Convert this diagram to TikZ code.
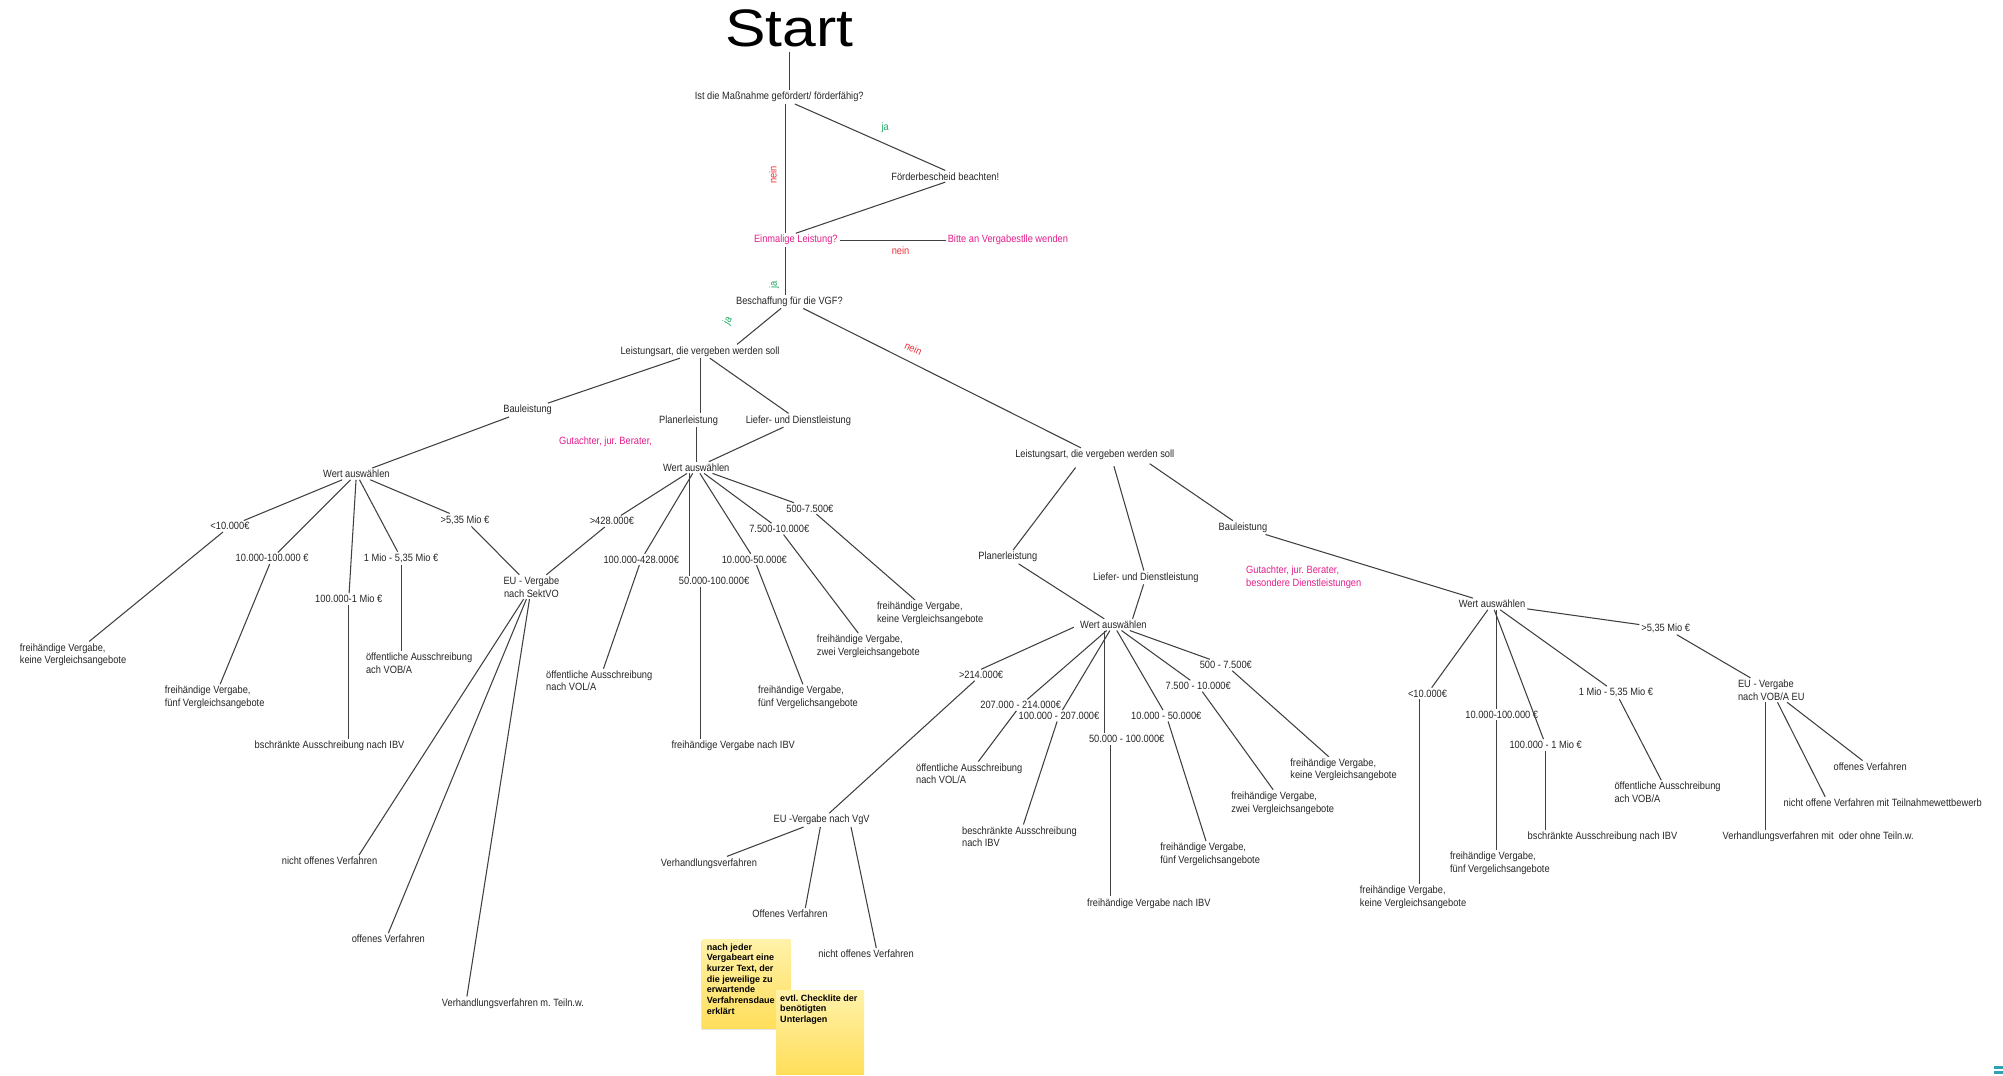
\documentclass[tikz,border=0pt]{standalone}
\usepackage{fontspec}
\setmainfont{Liberation Sans}[FakeStretch=0.88]
\newfontfamily\titlefont{Liberation Sans}[FakeStretch=1.15]
\newfontfamily\notefont{Liberation Sans}
\usetikzlibrary{calc}

\definecolor{hinweis}{RGB}{228,30,140}
\definecolor{neinrot}{RGB}{235,50,60}
\definecolor{jagruen}{RGB}{30,170,100}
\definecolor{zettelhell}{RGB}{255,242,170}
\definecolor{zetteldunkel}{RGB}{255,222,90}
\definecolor{ikon}{RGB}{50,160,180}

\tikzset{
  txt/.style={font=\fontsize{9}{10.8}\selectfont, text=black!85, inner sep=1.5pt, align=center},
  ltxt/.style={txt, align=left, anchor=west},
  hint/.style={txt, text=hinweis},
  kante/.style={draw=black!75, line width=0.9pt},
  ja/.style={font=\fontsize{9}{10}\selectfont, text=jagruen, inner sep=1pt},
  nein/.style={font=\fontsize{9}{10}\selectfont, text=neinrot, inner sep=1pt},
  zetteltext/.style={font=\notefont\bfseries\fontsize{7.7}{9.1}\selectfont, anchor=north west, align=left, inner sep=0pt}
}

\begin{document}
\begin{tikzpicture}[x=0.0383cm,y=-0.0383cm]
\path[use as bounding box,fill=white] (0,0) rectangle (1568,842);

%oben%%%%%%%%%%%%%%%%%%%%%%%%%%%%%%%%%%%%%%%%%%%%%%%%%%%%%%%
\node[font=\titlefont\fontsize{45}{50}\selectfont] (start) at (618,22.5) {Start};
\node[txt] (frage) at (610,76) {Ist die Maßnahme gefördert/ förderfähig?};
\node[txt] (foerder) at (740,138) {Förderbescheid beachten!};
\node[hint] (einmal) at (623,188) {Einmalige Leistung?};
\node[hint] (bitte) at (789,188) {Bitte an Vergabestlle wenden};
\node[txt] (besch) at (618,236) {Beschaffung für die VGF?};
\coordinate (achse) at (615,0);

\draw[kante] (start.south) -- (start.south |- frage.north);
\draw[kante] (frage.south -| achse) -- (einmal.north -| achse);
\draw[kante] (frage) -- (foerder.north);
\draw[kante] (foerder.south) -- (einmal.north);
\draw[kante] (einmal) -- (bitte);
\draw[kante] (einmal.south -| achse) -- (besch.north -| achse);

\node[nein,rotate=90] (n1) at (605,137) {nein};
\node[ja] (j1) at (693,100) {ja};
\node[nein] (n2) at (705,196) {nein};
\node[ja,rotate=90] (j2) at (606,223) {ja};
\node[ja,rotate=60] (j3) at (570,251) {ja};
\node[nein,rotate=-25] (n3) at (715,273) {nein};

%links%%%%%%%%%%%%%%%%%%%%%%%%%%%%%%%%%%%%%%%%%%%%%%%%%%%%%%
\node[txt] (lsl) at (548,275) {Leistungsart, die vergeben werden soll};
\node[txt] (baul) at (413,321) {Bauleistung};
\node[txt] (planl) at (539,329) {Planerleistung};
\node[txt] (liefl) at (625,329) {Liefer- und Dienstleistung};
\node[hint] (gutl) at (474,346) {Gutachter, jur.\ Berater,};
\node[txt] (wertl) at (279,371) {Wert auswählen};
\node[txt] (wertm) at (545,366) {Wert auswählen};

\node[txt] (l10) at (180,412) {<10.000€};
\node[txt] (l10100) at (213,437) {10.000-100.000 €};
\node[txt] (l1001m) at (273,469) {100.000-1 Mio €};
\node[txt] (l1535) at (314,437) {1 Mio - 5,35 Mio €};
\node[txt] (l535) at (364,407) {>5,35 Mio €};
\node[txt] (eus) at (416,459.5) {EU - Vergabe\\nach SektVO};
\node[ltxt] (lkeine) at (14,512.5) {freihändige Vergabe,\\keine Vergleichsangebote};
\node[ltxt] (lfuenf) at (127.5,546) {freihändige Vergabe,\\fünf Vergleichsangebote};
\node[txt] (lbeschr) at (258,584) {bschränkte Ausschreibung nach IBV};
\node[ltxt] (lvob) at (285,519) {öffentliche Ausschreibung\\ach VOB/A};
\node[txt] (lnicht) at (258,674) {nicht offenes Verfahren};
\node[txt] (loffen) at (304,735) {offenes Verfahren};
\node[txt] (lverh) at (401.5,785.5) {Verhandlungsverfahren m.\ Teiln.w.};

\draw[kante] (besch) -- ($(lsl.north)+(29,0)$);
\draw[kante] (lsl) -- (baul);
\draw[kante] (lsl.south) -- (lsl.south |- planl.north);
\draw[kante] (lsl) -- (liefl);
\draw[kante] (baul) -- (wertl);
\draw[kante] (planl.south -| wertm.north) -- (wertm.north);
\draw[kante] (liefl) -- (wertm);
\foreach \z in {l10,l10100,l1001m,l1535,l535}
  \draw[kante] (wertl) -- (\z);
\draw[kante] (l10) -- (lkeine);
\draw[kante] (l10100) -- (lfuenf);
\draw[kante] (l1001m.south) -- (l1001m.south |- lbeschr.north);
\draw[kante] (l1535.south) -- (l1535.south |- lvob.north);
\draw[kante] (l535) -- (eus);
\draw[kante] (eus) -- ($(lnicht.north)+(23,0)$);
\draw[kante] (eus) -- (loffen.north);
\draw[kante] (eus) -- ($(lverh.north)+(-36,0)$);

%mitte%%%%%%%%%%%%%%%%%%%%%%%%%%%%%%%%%%%%%%%%%%%%%%%%%%%%%%
\node[txt] (m428) at (479,408) {>428.000€};
\node[txt] (m100428) at (502,438) {100.000-428.000€};
\node[txt] (m50100) at (559,455) {50.000-100.000€};
\node[txt] (m1050) at (590.5,438) {10.000-50.000€};
\node[txt] (m7510) at (610,414) {7.500-10.000€};
\node[txt] (m5075) at (634,398) {500-7.500€};
\node[ltxt] (mkeine) at (685,480) {freihändige Vergabe,\\keine Vergleichsangebote};
\node[ltxt] (mzwei) at (638,506) {freihändige Vergabe,\\zwei Vergleichsangebote};
\node[ltxt] (mfuenf) at (592,546) {freihändige Vergabe,\\fünf Vergelichsangebote};
\node[txt] (mibv) at (574,584) {freihändige Vergabe nach IBV};
\node[ltxt] (mvol) at (426,533) {öffentliche Ausschreibung\\nach VOL/A};
\coordinate (mschiene1) at (539.4,0);
\coordinate (mschiene2) at (548.3,0);

\foreach \z in {m428,m100428,m1050,m7510,m5075}
  \draw[kante] (wertm) -- (\z);
\draw[kante] (wertm.south -| mschiene1) -- (m50100.north -| mschiene1);
\draw[kante] (m50100.south -| mschiene2) -- (mibv.north -| mschiene2);
\draw[kante] (m428) -- (eus);
\draw[kante] (m100428) -- (mvol);
\draw[kante] (m1050) -- (mfuenf);
\draw[kante] (m7510) -- (mzwei);
\draw[kante] (m5075) -- (mkeine);

%rechts%%%%%%%%%%%%%%%%%%%%%%%%%%%%%%%%%%%%%%%%%%%%%%%%%%%%%
\node[txt] (lsr) at (857,356) {Leistungsart, die vergeben werden soll};
\node[txt] (planr) at (789,436) {Planerleistung};
\node[txt] (liefr) at (897,452) {Liefer- und Dienstleistung};
\node[txt] (baur) at (973,413) {Bauleistung};
\node[hint,align=left,anchor=west] (gutr) at (974,452) {Gutachter, jur.\ Berater,\\besondere Dienstleistungen};
\node[txt] (wertr) at (871.6,489) {Wert auswählen};

\node[txt] (r214) at (768,528.4) {>214.000€};
\node[txt] (r207214) at (799,552) {207.000 - 214.000€};
\node[txt] (r100207) at (829,560.3) {100.000 - 207.000€};
\node[txt] (r50100) at (882,578.6) {50.000 - 100.000€};
\node[txt] (r1050) at (913,560.3) {10.000 - 50.000€};
\node[txt] (r7510) at (938,537) {7.500 - 10.000€};
\node[txt] (r5075) at (959.6,520.6) {500 - 7.500€};
\node[ltxt] (rvol) at (715.6,605.7) {öffentliche Ausschreibung\\nach VOL/A};
\node[ltxt] (rbeschr) at (751.6,655) {beschränkte Ausschreibung\\nach IBV};
\node[txt] (ribv) at (899.4,707.2) {freihändige Vergabe nach IBV};
\node[ltxt] (rfuenf) at (906.8,668.7) {freihändige Vergabe,\\fünf Vergelichsangebote};
\node[ltxt] (rzwei) at (962.4,628.6) {freihändige Vergabe,\\zwei Vergleichsangebote};
\node[ltxt] (rkeine) at (1008.6,602.7) {freihändige Vergabe,\\keine Vergleichsangebote};
\node[txt] (euvgv) at (643.2,642) {EU -Vergabe nach VgV};
\node[txt] (vverh) at (555,675.8) {Verhandlungsverfahren};
\node[txt] (voffen) at (618.4,715.5) {Offenes Verfahren};
\node[txt] (vnicht) at (678,746.8) {nicht offenes Verfahren};
\coordinate (rschiene1) at (864.3,0);
\coordinate (rschiene2) at (869,0);

\draw[kante] (besch) -- (lsr);
\draw[kante] ($(lsr)+(-15,10)$) -- (planr);
\draw[kante] ($(lsr)+(15,9)$) -- (liefr);
\draw[kante] ($(lsr)+(43,7)$) -- (baur);
\draw[kante] (planr) -- (wertr);
\draw[kante] (liefr) -- ($(wertr.north)+(15,0)$);
\draw[kante] ($(wertr)+(-31,2)$) -- (r214.north);
\foreach \z in {r207214,r100207,r1050,r7510,r5075}
  \draw[kante] (wertr) -- (\z);
\draw[kante] (wertr.south -| rschiene1) -- (r50100.north -| rschiene1);
\draw[kante] (r50100.south -| rschiene2) -- (ribv.north -| rschiene2);
\draw[kante] (r214) -- (euvgv);
\draw[kante] (r207214) -- (rvol);
\draw[kante] (r100207) -- (rbeschr);
\draw[kante] (r1050) -- (rfuenf);
\draw[kante] (r7510) -- (rzwei);
\draw[kante] (r5075) -- (rkeine);
\draw[kante] (euvgv) -- (vverh);
\draw[kante] (euvgv) -- ($(voffen.north)+(12,0)$);
\draw[kante] ($(euvgv.south)+(23,0)$) -- ($(vnicht.north)+(8,0)$);

%ganz rechts%%%%%%%%%%%%%%%%%%%%%%%%%%%%%%%%%%%%%%%%%%%%%%%%
\node[txt] (wertrr) at (1168,472.8) {Wert auswählen};
\node[txt] (rr10) at (1117.5,542.8) {<10.000€};
\node[txt] (rr10100) at (1175.6,559.5) {10.000-100.000 €};
\node[txt] (rr1001m) at (1210,583.2) {100.000 - 1 Mio €};
\node[txt] (rr1535) at (1265,542.2) {1 Mio - 5,35 Mio €};
\node[txt] (rr535) at (1304,491.8) {>5,35 Mio €};
\node[ltxt] (euvob) at (1359,540.2) {EU - Vergabe\\ nach VOB/A EU};
\node[ltxt] (rrkeine) at (1063,702.5) {freihändige Vergabe,\\keine Vergleichsangebote};
\node[ltxt] (rrfuenf) at (1133.6,676) {freihändige Vergabe,\\fünf Vergelichsangebote};
\node[txt] (rrbeschr) at (1254.5,655) {bschränkte Ausschreibung nach IBV};
\node[ltxt] (rrvob) at (1262.3,620.3) {öffentliche Ausschreibung\\ach VOB/A};
\node[txt] (rroffen) at (1464,600) {offenes Verfahren};
\node[txt] (rrnicht) at (1473.8,628.3) {nicht offene Verfahren mit Teilnahmewettbewerb};
\node[txt] (rrverh) at (1423.3,655) {Verhandlungsverfahren mit\ \ oder ohne Teiln.w.};
\coordinate (rrschiene1) at (1111,0);
\coordinate (rrschiene2) at (1171.3,0);
\coordinate (euschiene) at (1382.3,0);

\draw[kante] (baur) -- (wertrr);
\foreach \z in {rr10,rr1001m,rr1535,rr535}
  \draw[kante] (wertrr) -- (\z);
\draw[kante] (wertrr.south -| rrschiene2) -- (rr10100.north -| rrschiene2);
\draw[kante] (rr10.south -| rrschiene1) -- (rrkeine.north -| rrschiene1);
\draw[kante] (rr10100.south -| rrschiene2) -- (rrfuenf.north -| rrschiene2);
\draw[kante] (rr1001m.south) -- (rr1001m.south |- rrbeschr.north);
\draw[kante] (rr1535) -- (rrvob);
\draw[kante] (rr535) -- (euvob);
\draw[kante] (euvob.south -| euschiene) -- (rrverh.north -| euschiene);
\draw[kante] (euvob) -- ($(rrnicht.north)+(-45,0)$);
\draw[kante] (euvob) -- (rroffen);

%zettel%%%%%%%%%%%%%%%%%%%%%%%%%%%%%%%%%%%%%%%%%%%%%%%%%%%%%
\fill[black!10] (548.5,737) rectangle (619,806.5); %schatten
\shade[top color=zettelhell,bottom color=zetteldunkel] (550,735.3) rectangle (619,805);
\node[zetteltext] (z1) at (553.2,738.5) {nach jeder\\Vergabeart eine\\kurzer Text, der\\die jeweilige zu\\erwartende\\Verfahrensdaue\\erklärt};
\shade[top color=zettelhell,bottom color=zetteldunkel] (607.5,775) rectangle (676.4,841);
\node[zetteltext] (z2) at (610.6,778.5) {evtl.\ Checklite der\\benötigten\\Unterlagen};

\fill[ikon] (1561,834.3) rectangle (1568,837);
\fill[ikon] (1561,838.4) rectangle (1568,840.6);

\end{tikzpicture}
\end{document}
